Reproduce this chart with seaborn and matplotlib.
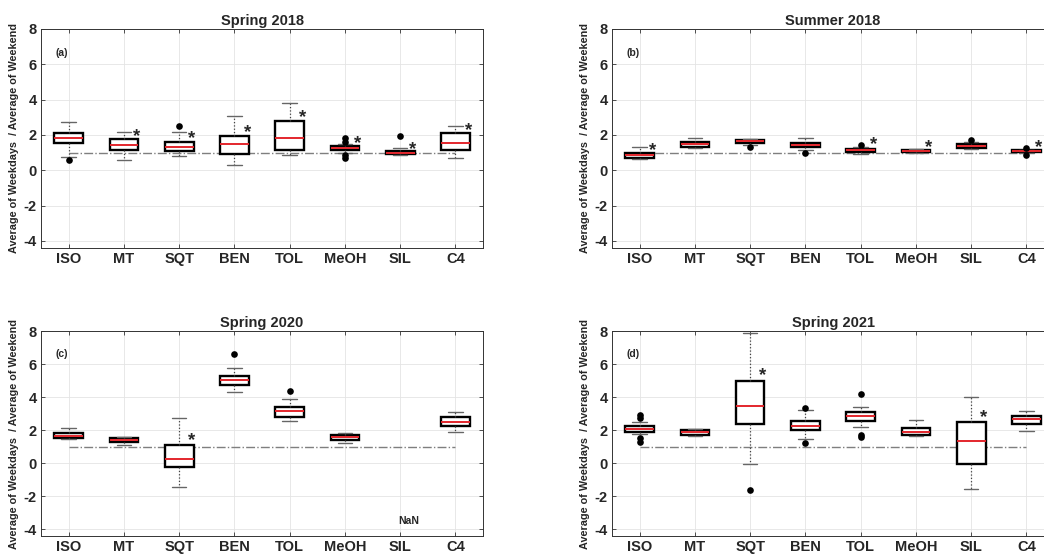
import numpy as np
import pandas as pd
import matplotlib.pyplot as plt
import seaborn as sns

compounds = ['ISO', 'MT', 'SQT', 'BEN', 'TOL', 'MeOH', 'SIL', 'C4']
titles = ['Spring 2018', 'Summer 2018', 'Spring 2020', 'Spring 2021']
tags = ['(a)', '(b)', '(c)', '(d)']

# five-number summaries (lower whisker, q1, median, q3, upper whisker)
low_a = [0.75, 0.57, 0.82, 0.29, 0.86, 0.95, 0.86, 0.69]
q1_a = [1.52, 1.14, 1.10, 0.93, 1.16, 1.16, 0.92, 1.16]
med_a = [1.83, 1.45, 1.30, 1.49, 1.85, 1.27, 1.00, 1.54]
q3_a = [2.11, 1.79, 1.60, 1.96, 2.78, 1.37, 1.08, 2.11]
high_a = [2.76, 2.19, 2.19, 3.09, 3.79, 1.50, 1.24, 2.48]
fliers_a = {'ISO': [0.6], 'SQT': [2.48], 'MeOH': [1.83, 1.62, 0.85, 0.72], 'SIL': [1.96]}
stars_a = {'MT': 2.2, 'SQT': 2.1, 'BEN': 2.44, 'TOL': 3.26, 'MeOH': 1.8, 'SIL': 1.49, 'C4': 2.53}

low_b = [0.63, 1.25, 1.41, 1.16, 0.91, 0.99, 1.20, 0.98]
q1_b = [0.72, 1.33, 1.54, 1.33, 1.05, 1.03, 1.24, 1.01]
med_b = [0.86, 1.47, 1.64, 1.45, 1.14, 1.09, 1.35, 1.07]
q3_b = [0.97, 1.60, 1.73, 1.56, 1.22, 1.14, 1.47, 1.12]
high_b = [1.30, 1.83, 1.77, 1.83, 1.30, 1.18, 1.58, 1.16]
fliers_b = {'SQT': [1.33], 'BEN': [0.97], 'TOL': [1.41], 'SIL': [1.69], 'C4': [1.24, 0.89]}
stars_b = {'ISO': 1.43, 'TOL': 1.73, 'MeOH': 1.58, 'C4': 1.58}

low_c = [1.44, 1.10, -1.41, 4.29, 2.54, 1.24, np.nan, 1.89]
q1_c = [1.50, 1.28, -0.23, 4.72, 2.79, 1.40, np.nan, 2.26]
med_c = [1.67, 1.40, 0.24, 5.03, 3.19, 1.58, np.nan, 2.50]
q3_c = [1.83, 1.54, 1.12, 5.27, 3.40, 1.69, np.nan, 2.77]
high_c = [2.13, 1.60, 2.73, 5.76, 3.87, 1.83, np.nan, 3.13]
fliers_c = {'BEN': [6.62], 'TOL': [4.35]}
stars_c = {'SQT': 1.69}

low_d = [1.78, 1.67, -0.02, 1.47, 2.22, 1.63, -1.53, 1.94]
q1_d = [1.92, 1.71, 2.39, 2.00, 2.53, 1.69, -0.02, 2.39]
med_d = [2.08, 1.88, 3.47, 2.24, 2.84, 1.92, 1.37, 2.65]
q3_d = [2.24, 2.02, 5.00, 2.57, 3.08, 2.16, 2.47, 2.88]
high_d = [2.49, 2.05, 7.90, 3.20, 3.40, 2.63, 4.02, 3.14]
fliers_d = {'ISO': [2.9, 2.73, 1.5, 1.3], 'SQT': [-1.59], 'BEN': [3.35, 1.22], 'TOL': [4.16, 1.73, 1.57]}
stars_d = {'SQT': 5.6, 'SIL': 3.04}

panels = [
    (low_a, q1_a, med_a, q3_a, high_a, fliers_a, stars_a),
    (low_b, q1_b, med_b, q3_b, high_b, fliers_b, stars_b),
    (low_c, q1_c, med_c, q3_c, high_c, fliers_c, stars_c),
    (low_d, q1_d, med_d, q3_d, high_d, fliers_d, stars_d),
]

sns.set_style('white')
plt.rcParams['font.family'] = ['Liberation Sans', 'DejaVu Sans']
plt.rcParams['font.weight'] = 'bold'

fig = plt.figure(figsize=(10.44, 5.55), dpi=100)
positions = [
    [0.0393, 0.5532, 0.4234, 0.3946],
    [0.5862, 0.5532, 0.4234, 0.3946],
    [0.0393, 0.0342, 0.4234, 0.3694],
    [0.5862, 0.0342, 0.4234, 0.3694],
]

for k, (low, q1, med, q3, high, fliers, stars) in enumerate(panels):
    ax = fig.add_axes(positions[k])

    # boxes: five values per compound give exactly these quartiles/whiskers
    rows = []
    for i, c in enumerate(compounds):
        if np.isnan(med[i]):
            continue
        for v in [low[i], q1[i], med[i], q3[i], high[i]]:
            rows.append({'compound': c, 'value': v})
    df = pd.DataFrame(rows)

    sns.boxplot(data=df, x='compound', y='value', order=compounds, ax=ax,
                whis=(0, 100), width=0.52, showfliers=False,
                color='white', linecolor='black', linewidth=1.7,
                medianprops={'color': '#e3262c', 'linewidth': 1.4},
                whiskerprops={'color': '#444444', 'linestyle': ':', 'linewidth': 0.9},
                capprops={'color': '#666666', 'linewidth': 1.0})

    frows = [{'compound': c, 'value': v} for c, vals in fliers.items() for v in vals]
    if frows:
        sns.stripplot(data=pd.DataFrame(frows), x='compound', y='value', order=compounds,
                      ax=ax, jitter=False, color='black', size=4.8, zorder=5)

    for c, y in stars.items():
        ax.text(compounds.index(c) + 0.23, y - 0.3, '*', fontsize=13.5, fontweight='bold',
                ha='center', va='center')

    ax.plot([0, len(compounds) - 1], [1, 1], color='#7f7f7f', linestyle='-.',
            linewidth=1.0, zorder=1)

    if k == 2:
        ax.text(compounds.index('SIL') + 0.15, -3.5, 'NaN', fontsize=7.5,
                fontweight='bold', ha='center', va='center')

    ax.set_xlim(-0.5, len(compounds) - 0.5)
    ax.set_ylim(-4.4, 8)
    ax.set_yticks(np.arange(-4, 9, 2))
    ax.set_xticks(range(len(compounds)))
    ax.set_xticklabels(compounds, fontsize=10.5, fontweight='bold')
    ax.set_yticklabels([str(t) for t in range(-4, 9, 2)], fontsize=10.5, fontweight='bold')
    ax.tick_params(direction='in', length=3, width=0.6, color='#333333', pad=3,
                   top=True, right=True, left=True, bottom=True,
                   labeltop=False, labelright=False)
    ax.grid(True, color='#e4e4e4', linewidth=0.6)
    ax.set_axisbelow(True)
    for s in ax.spines.values():
        s.set_color('#333333')
        s.set_linewidth(0.7)
    ax.set_xlabel('')
    ax.set_ylabel('Average of Weekdays  / Average of Weekend', fontsize=7.8,
                  fontweight='bold', labelpad=3)
    ax.set_title(titles[k], fontsize=10.5, fontweight='bold', pad=3)
    ax.text(0.032, 0.89, tags[k], transform=ax.transAxes, fontsize=7.5,
            fontweight='bold', ha='left', va='center')

fig.savefig('out.png', dpi=100)
